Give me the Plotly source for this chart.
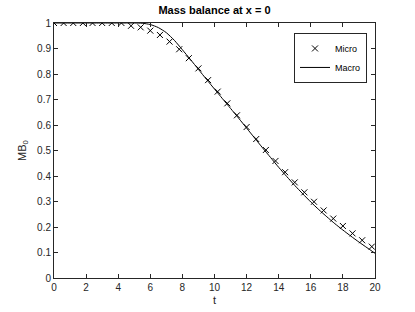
import plotly.graph_objects as go

# Micro (markers)
t_micro = [round(0.6 * i, 1) for i in range(34)]
mb_micro = [1.0, 1.0, 1.0, 1.0, 1.0, 1.0, 1.0, 1.0, 0.989, 0.983,
            0.970, 0.953, 0.927, 0.897, 0.862, 0.822, 0.776, 0.731, 0.685, 0.638,
            0.592, 0.545, 0.502, 0.459, 0.415, 0.375, 0.336, 0.299, 0.265, 0.233,
            0.204, 0.175, 0.148, 0.123]

# Macro (line)
t_macro = [0, 1, 2, 3, 4, 5, 5.5, 6, 6.5, 7, 7.5, 8, 8.5, 9, 9.5, 10, 10.5, 11, 11.5,
           12, 12.5, 13, 13.5, 14, 14.5, 15, 15.5, 16, 16.5, 17, 17.5, 18, 18.5,
           19, 19.5, 20]
mb_macro = [1.0, 1.0, 1.0, 1.0, 1.0, 1.0, 0.999, 0.994, 0.982, 0.962, 0.932, 0.895,
            0.857, 0.818, 0.779, 0.741, 0.703, 0.665, 0.627, 0.588, 0.549, 0.510,
            0.472, 0.434, 0.398, 0.363, 0.330, 0.298, 0.268, 0.240, 0.213, 0.188,
            0.164, 0.141, 0.119, 0.097]

x_ticks = list(range(0, 21, 2))
y_ticks = [round(0.1 * i, 1) for i in range(11)]

FONT = "Liberation Sans, Arial, Helvetica, sans-serif"
AX = "#262626"

fig = go.Figure()
fig.add_trace(go.Scatter(
    x=t_micro, y=mb_micro, mode="markers", name="Micro",
    marker=dict(symbol="x-thin", size=6, color="black",
                line=dict(width=1, color="black")),
))
fig.add_trace(go.Scatter(
    x=t_macro, y=mb_macro, mode="lines", name="Macro",
    line=dict(color="black", width=1, shape="spline", smoothing=0.6),
))

axis_common = dict(
    showline=True, linecolor=AX, linewidth=1, mirror="ticks",
    ticks="inside", ticklen=4, tickcolor=AX, tickwidth=1,
    showgrid=False, zeroline=False, automargin=False,
    tickfont=dict(family=FONT, size=10, color=AX),
)

fig.update_layout(
    width=415, height=312,
    margin=dict(l=54, r=40, t=23, b=34),
    paper_bgcolor="white", plot_bgcolor="white",
    font=dict(family=FONT, color=AX),
    title=dict(text="<b>Mass balance at x = 0</b>", x=0.5, xref="paper",
               y=1, yref="container", yanchor="top", pad=dict(t=6),
               font=dict(family=FONT, size=11, color="black"), automargin=False),
    xaxis=dict(range=[0, 20], tickvals=x_ticks,
               title=dict(text="t", font=dict(family=FONT, size=11, color=AX), standoff=4),
               **axis_common),
    yaxis=dict(range=[0, 1], tickvals=y_ticks,
               title=dict(text="MB<sub>0</sub>", font=dict(family=FONT, size=11, color=AX), standoff=8),
               **axis_common),
    legend=dict(x=1 - (375 - 367) / 321, y=0.961, xanchor="right", yanchor="top",
                bgcolor="white", bordercolor=AX, borderwidth=1,
                font=dict(family=FONT, size=9, color="black"),
                itemwidth=30, tracegroupgap=0),
    showlegend=True,
)

fig.write_html("out.html", config={"displayModeBar": False},
               post_script="document.body.style.margin='0';document.body.style.padding='0';")
